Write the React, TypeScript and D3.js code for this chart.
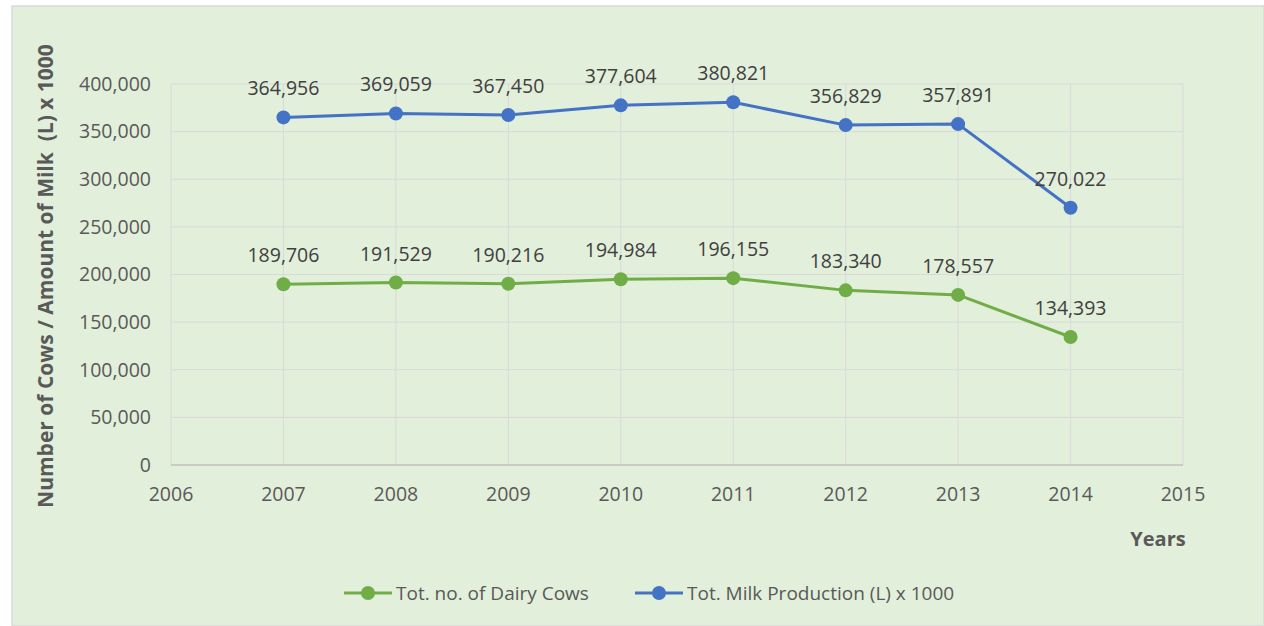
import React from "react";
import * as d3 from "d3";

const years = [2007, 2008, 2009, 2010, 2011, 2012, 2013, 2014];
const dairyCows = [189706, 191529, 190216, 194984, 196155, 183340, 178557, 134393];
const milkProduction = [364956, 369059, 367450, 377604, 380821, 356829, 357891, 270022];
const yTicks = [0, 50000, 100000, 150000, 200000, 250000, 300000, 350000, 400000];
const xTicks = [2006, 2007, 2008, 2009, 2010, 2011, 2012, 2013, 2014, 2015];

const seriesList = [
  { name: "Tot. no. of Dairy Cows", values: dairyCows, color: "#70AD47" },
  { name: "Tot. Milk Production (L) x 1000", values: milkProduction, color: "#4472C4" },
];

const W = 1264, H = 626;
const FONT = "'Open Sans', 'Noto Sans', sans-serif";
const TEXT = "#595959";

export default function App() {
  const x = d3.scaleLinear().domain([2006, 2015]).range([171, 1183]);
  const y = d3.scaleLinear().domain([0, 400000]).range([465, 84]);
  const fmt = d3.format(",");

  const line = d3.line<number>()
    .x((_, i) => x(years[i]))
    .y(d => y(d));

  return (
    <svg width={W} height={H} style={{ position: "absolute", left: 0, top: 0 }} fontFamily={FONT}>
      <rect x={12} y={6} width={W - 12} height={H - 6} fill="#E2EFDA" stroke="#D9D9D9" strokeWidth={1.5} />

      {/* grid */}
      {yTicks.slice(1).map(t => (
        <line key={"gy" + t} x1={x(2006)} x2={x(2015)} y1={y(t)} y2={y(t)} stroke="#D9D9D9" strokeWidth={1} />
      ))}
      {xTicks.map(t => (
        <line key={"gx" + t} x1={x(t)} x2={x(t)} y1={y(0)} y2={y(400000)} stroke="#D9D9D9" strokeWidth={1} />
      ))}
      <line x1={x(2006)} x2={x(2015)} y1={y(0)} y2={y(0)} stroke="#BFBFBF" strokeWidth={1.5} />

      {/* y ticks */}
      {yTicks.map(t => (
        <text key={"ty" + t} x={151} y={y(t)} dy="0.35em" textAnchor="end" fontSize={19.5} fill={TEXT}>
          {fmt(t)}
        </text>
      ))}
      {/* x ticks */}
      {xTicks.map(t => (
        <text key={"tx" + t} x={x(t)} y={501} textAnchor="middle" fontSize={19.5} fill={TEXT}>
          {t}
        </text>
      ))}

      <text transform="translate(53,276) rotate(-90)" textAnchor="middle" fontSize={21} fontWeight="bold" fill={TEXT} style={{ whiteSpace: "pre" }}>
        {"Number of Cows / Amount of Milk  (L) x 1000"}
      </text>
      <text x={1158} y={546} textAnchor="middle" fontSize={20} fontWeight="bold" fill={TEXT}>Years</text>

      {/* series */}
      {seriesList.map(s => (
        <g key={s.name}>
          <path d={line(s.values) || ""} fill="none" stroke={s.color} strokeWidth={3} strokeLinejoin="round" />
          {s.values.map((v, i) => (
            <circle key={i} cx={x(years[i])} cy={y(v)} r={7} fill={s.color} />
          ))}
          {s.values.map((v, i) => (
            <text key={"l" + i} x={x(years[i])} y={y(v) - 22} textAnchor="middle" fontSize={19.5} fill="#404040">
              {fmt(v)}
            </text>
          ))}
        </g>
      ))}

      {/* legend */}
      {[{ lx: 344, tx: 396 }, { lx: 635, tx: 687 }].map((p, i) => (
        <g key={"lg" + i}>
          <line x1={p.lx} x2={p.lx + 48} y1={593} y2={593} stroke={seriesList[i].color} strokeWidth={3} />
          <circle cx={p.lx + 24} cy={593} r={7} fill={seriesList[i].color} />
          <text x={p.tx} y={593} dy="0.35em" fontSize={19} fill={TEXT}>{seriesList[i].name}</text>
        </g>
      ))}
    </svg>
  );
}
